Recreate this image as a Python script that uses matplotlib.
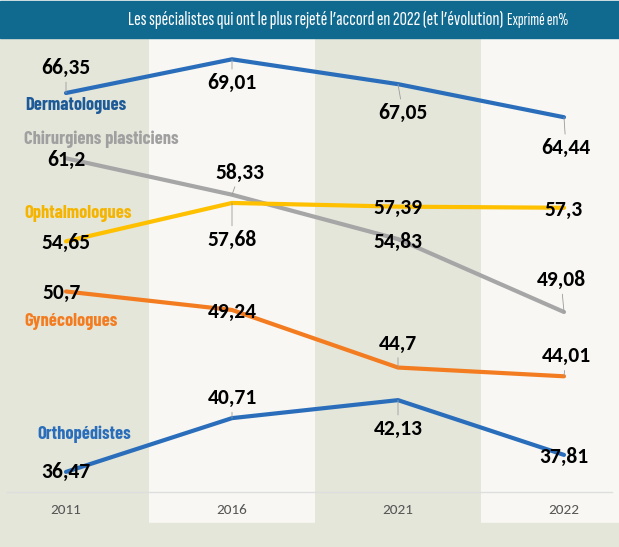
import matplotlib
matplotlib.use('Agg')
import matplotlib.pyplot as plt
from matplotlib.patches import Rectangle

# ---- data ----
years = ['2011', '2016', '2021', '2022']
dermato = [66.35, 69.01, 67.05, 64.44]
chir = [61.2, 58.33, 54.83, 49.08]
ophta = [54.65, 57.68, 57.39, 57.3]
gyne = [50.7, 49.24, 44.7, 44.01]
ortho = [36.47, 40.71, 42.13, 37.81]
names = ['Dermatologues', 'Chirurgiens plasticiens', 'Ophtalmologues', 'Gynécologues', 'Orthopédistes']
title = 'Les spécialistes qui ont le plus rejeté l’accord en 2022 (et l’évolution)'
subtitle = 'Exprimé en%'

COND = ['Barlow Condensed', 'Roboto Condensed', 'DejaVu Sans']
XCOND = ['Sofia Sans Extra Condensed', 'Barlow Condensed', 'DejaVu Sans']
NUM = ['Carlito', 'Lato', 'DejaVu Sans']

BLUE, GREY, YELLOW, ORANGE = '#2a6ebb', '#a6a6a6', '#ffc000', '#f47c20'
GREEN_BG, LIGHT_BG, BAND = '#e4e6da', '#f8f7f3', '#10698f'

W, H = 619, 547
fig = plt.figure(figsize=(W/100, H/100), dpi=100, facecolor=LIGHT_BG)

# title band + bottom band
fig.patches.append(Rectangle((0, 1 - 38/H), 1, 37/H, transform=fig.transFigure,
                             color=BAND, zorder=0))
fig.patches.append(Rectangle((0, 0), 1, 24/H, transform=fig.transFigure,
                             color=GREEN_BG, zorder=0))
t1 = fig.text(503/W, 1 - 20/H, title, ha='right', va='center', color='white',
              fontsize=14, family=XCOND, fontweight='bold')
t2 = fig.text(507/W, 1 - 21/H, subtitle, ha='left', va='center', color='white',
              fontsize=11, family=XCOND)
r = fig.canvas.get_renderer()
t1.set_fontsize(14 * 376 / t1.get_window_extent(r).width)
t2.set_fontsize(11 * 61 / t2.get_window_extent(r).width)

ax = fig.add_axes([0, 24/H, 1, (523-39)/H])
ax.set_facecolor(LIGHT_BG)
ax.set_xlim((0-66)/166, (619-66)/166)
ax.set_ylim(32.44, 70.61)
for s in ax.spines.values():
    s.set_visible(False)
ax.set_yticks([])
ax.set_xticks(range(4), years)
ax.tick_params(axis='x', length=0, pad=-9.4, labelsize=11, labelcolor='#555555')
for t in ax.get_xticklabels():
    t.set_va('center')
    t.set_family(NUM)

for i in (0, 2):
    ax.axvspan(i - 0.5, i + 0.5, color=GREEN_BG, zorder=0, lw=0)
ax.axhline(34.88, xmin=7/W, xmax=612/W, color='#dedede', lw=1, zorder=1)

series = [dermato, chir, ophta, gyne, ortho]
colors = [BLUE, GREY, YELLOW, ORANGE, BLUE]
name_colors = ['#1c5a98', '#a0a0a0', '#f5b400', '#f47c20', '#2a6ebb']
name_pos = [(25, 105), (24, 139), (24, 213), (24, 321), (37, 434)]
# label offsets in pixels (dx, dy)
offsets = [
    [(0, 25), (0, -24), (5, -29), (2, -31)],
    [(0, -2), (8, 22), (0, -3), (-3, 32)],
    [(0, -2), (0, -37), (0, -1), (0, -2)],
    [(-4, -1), (0, -2), (0, 24), (2, 20)],
    [(0, 0), (0, 20), (0, -29), (0, -2)],
]

x = range(4)
for vals, c, offs in zip(series, colors, offsets):
    ax.plot(x, vals, color=c, lw=3, solid_capstyle='round', zorder=3)
    for xi, v, (dx, dy) in zip(x, vals, offs):
        txt = f'{v:g}'.replace('.', ',')
        far = abs(dy) > 12
        ax.annotate(txt, (xi, v), xytext=(dx, dy), textcoords='offset pixels',
                    ha='center', va='center', fontsize=15.5, fontweight='bold',
                    family=NUM, color='black', zorder=5,
                    arrowprops=dict(arrowstyle='-', color='#9a9a9a', lw=0.6,
                                    shrinkA=1, shrinkB=0) if far else None)

for n, c, (px, py) in zip(names, name_colors, name_pos):
    fig.text(px/W, 1 - py/H, n, ha='left', va='center', color=c,
             fontsize=13.3, fontweight='bold', family=COND)

plt.savefig('out.png', dpi=100, facecolor=LIGHT_BG)
